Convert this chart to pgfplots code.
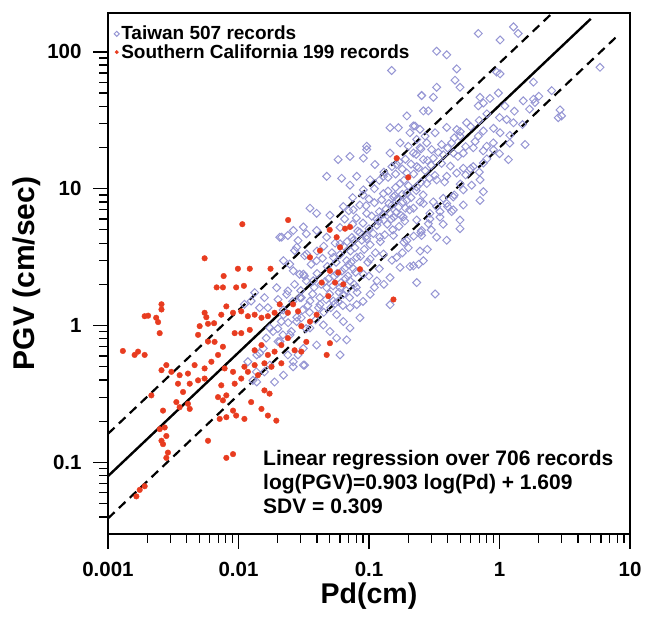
\documentclass[border=0pt]{standalone}
\usepackage{fontspec}
\setmainfont{Liberation Sans}
\usepackage{pgfplots}
\pgfplotsset{compat=1.18}
\definecolor{twblue}{RGB}{150,150,212}
\definecolor{scred}{RGB}{232,60,32}
\begin{document}
\begin{tikzpicture}
\useasboundingbox (-108pt,-82pt) rectangle (542pt,534pt);
\begin{loglogaxis}[
  at={(0,0)}, anchor=south west,
  scale only axis, width=522pt, height=521pt,
  xmin=0.001, xmax=10, ymin=0.03, ymax=192,
  xtick={0.001,0.01,0.1,1,10}, xticklabels={0.001,0.01,0.1,1,10},
  ytick={0.1,1,10,100}, yticklabels={0.1,1,10,100},
  minor xtick={0.002,0.003,0.004,0.005,0.006,0.007,0.008,0.009,
    0.02,0.03,0.04,0.05,0.06,0.07,0.08,0.09,
    0.2,0.3,0.4,0.5,0.6,0.7,0.8,0.9,2,3,4,5,6,7,8,9},
  minor ytick={0.04,0.05,0.06,0.07,0.08,0.09,
    0.2,0.3,0.4,0.5,0.6,0.7,0.8,0.9,2,3,4,5,6,7,8,9,
    20,30,40,50,60,70,80,90},
  tick pos=left, tick align=outside,
  major tick length=15pt, minor tick length=9pt,
  major tick style={line width=1.5pt, black},
  minor tick style={line width=1.2pt, black},
  axis line style={line width=1.8pt},
  ticklabel style={font=\fontsize{20.5}{24}\selectfont\bfseries},
  xticklabel style={yshift=-10pt},
  yticklabel style={xshift=-8pt},
  xlabel={Pd(cm)}, ylabel={PGV (cm/sec)},
  xlabel style={yshift=-1pt, inner sep=1pt, font=\fontsize{28.5}{32}\selectfont\bfseries},
  ylabel style={font=\fontsize{30}{34}\selectfont\bfseries},
  legend style={at={(rel axis cs:0,1)}, anchor=north west, xshift=4pt, yshift=-9pt,
    draw=none, fill=none,
    font=\fontsize{19}{21}\selectfont\bfseries, inner sep=2pt, row sep=-1pt},
  legend cell align=left,
  legend image code/.code={\draw[mark size=1.8pt, mark repeat=2,mark phase=2] plot coordinates {(0cm,0cm) (0.1cm,0cm) (0.2cm,0cm)};},
]
% Taiwan
\addplot[only marks, mark=square, mark size=2.8pt,
  mark options={rotate=45, draw=twblue, fill=none, line width=1pt}] coordinates {
(0.688,136) (1.28,152) (1.39,136) (1.01,122) (0.33,101) (0.394,95) (0.47,75) (0.951,71) (1.01,69) (0.456,62)
(0.498,55) (0.33,55) (0.253,48) (0.311,46.5) (0.709,46.5) (0.845,45.6) (0.98,50) (1.82,60) (2.51,52) (1.52,43.8)
(1.82,45) (1.87,42.6) (0.688,40.3) (0.752,42.2) (2.91,37.6) (2.99,34) (2.82,33) (0.285,37) (0.195,34) (1.135,32)
(1.28,30.3) (0.56,30.3) (0.47,27) (0.394,28) (0.321,25.6) (0.269,24.2) (0.225,28.7) (0.206,25.6) (1.01,25.6) (0.752,26.4)
(0.688,24.2) (0.498,24.2) (0.43,21.6) (0.36,21) (0.302,19.3) (0.246,19.9) (0.219,18.2) (1.57,21) (5.89,77) (1.17,16.3)
(0.897,21.6) (0.798,20.4) (0.63,19.9) (0.528,18.2) (0.443,18.2) (0.371,17.7) (0.311,16.7) (0.261,16.3) (0.232,14.5) (0.195,13)
(0.752,15.4) (0.63,14.5) (0.528,14.1) (0.47,13) (0.394,12.3) (0.33,11.6) (0.277,10.9) (0.232,10.3) (0.709,11.6) (0.612,10.6)
(0.528,9.8) (0.443,8.7) (0.371,8.5) (0.311,8.0) (0.261,7.8) (0.219,7.2) (0.709,8.2) (0.752,9.5) (0.443,7.0) (0.35,6.8)
(0.293,6.6) (0.528,7.6) (0.43,6.8)
(0.498,5.9) (0.498,5.1) (0.394,4.2) (0.246,3.5) (0.206,2.7) (0.24,2.8) (0.232,2.06) (0.321,1.7) (0.253,4.55) (0.253,4.95)
(0.285,5.55) (0.185,4.06)
(0.149,73) (0.253,47.8) (0.261,37) (0.145,27.9) (0.168,27.9) (0.219,28.7) (0.173,21.6) (0.232,22.9) (0.277,21.6) (0.246,27.1)
(0.096,20.4) (0.2,20.4)
(0.096,19.3) (0.145,18.2) (0.058,16.3) (0.0715,17.2) (0.0905,16.7) (0.111,15) (0.163,15) (0.0474,12.3) (0.0617,11.9) (0.0805,12.3)
(0.102,11.6) (0.129,12.3) (0.173,10.9) (0.0715,10.6) (0.0905,9.8) (0.129,9.2) (0.154,8.7) (0.0353,7.2) (0.0397,6.6) (0.0502,6.4)
(0.0636,7.4) (0.0759,7.0) (0.096,6.6) (0.115,6.0) (0.145,6.6) (0.0214,4.42) (0.0263,4.95) (0.0314,5.25) (0.0397,4.95) (0.0474,4.42)
(0.06,3.95) (0.0759,4.18) (0.096,4.3) (0.121,4.42) (0.154,4.55) (0.129,3.33) (0.163,3.15) (0.0279,3.73) (0.0333,3.33) (0.0397,2.98)
(0.0533,3.15) (0.0674,2.98) (0.0805,3.15) (0.102,3.06) (0.0221,2.98) (0.0263,2.51) (0.0314,2.37) (0.0374,2.12) (0.0474,1.89) (0.06,1.89)
(0.0715,2.12) (0.0905,2.37) (0.115,2.12) (0.145,2.24) (0.173,2.66) (0.0196,1.89) (0.0234,1.69) (0.0296,1.6) (0.0353,1.51) (0.0421,1.42)
(0.0533,1.51) (0.0636,1.69) (0.0805,1.42) (0.102,1.69) (0.145,1.42) (0.0221,1.2) (0.0279,1.07) (0.0353,0.96) (0.0447,1.01) (0.0565,1.2)
(0.0715,1.35) (0.0853,1.14) (0.0502,0.905) (0.0636,1.07) (0.0248,0.855) (0.0314,0.68) (0.0397,0.72) (0.0565,0.81) (0.0715,0.96) (0.0674,0.786)
(0.0208,0.764) (0.0263,0.544) (0.0314,0.514) (0.06,0.61) (0.0174,0.96) (0.0155,0.68) (0.0138,0.61) (0.0174,0.514) (0.0221,0.434) (0.0138,0.387)
(0.195,8.2) (0.246,8.0) (0.232,5.9) (0.293,6.0) (0.183,6.2) (0.195,4.18) (0.261,2.98) (0.219,2.73) (0.33,7.4) (0.394,7.8)
(0.37,5.5) (0.33,4.42)
(0.0207,4.42) (0.0239,4.55) (0.0286,4.18) (0.0331,4.68) (0.0269,3.53) (0.0321,3.24) (0.0247,2.81) (0.0294,2.37) (0.0269,2.0) (0.0331,2.12)
(0.0239,1.79) (0.0303,1.6) (0.0201,1.55) (0.0158,1.6) (0.0133,1.74) (0.0125,1.51) (0.0111,1.43) (0.0145,1.35) (0.0168,1.35) (0.0213,1.07)
(0.0184,0.905) (0.0219,0.855) (0.0254,0.905) (0.0303,1.14) (0.0201,0.764) (0.0163,0.81) (0.0145,0.627) (0.0129,0.398) (0.0158,0.459) (0.0189,0.387)
(0.0239,0.61) (0.0286,0.61) (0.0262,0.50) (0.0321,0.514) (0.0137,0.459) (0.0118,0.544)
(0.075,5.5) (0.08,6.1) (0.085,4.8) (0.09,5.6) (0.095,7.5) (0.1,5.1) (0.105,6.3) (0.11,7.9) (0.115,5.4) (0.12,6.8)
(0.125,8.3) (0.13,5.9) (0.135,7.1) (0.14,9.6) (0.15,7.6) (0.155,6.2) (0.16,10.2) (0.165,8.4) (0.17,5.3) (0.18,9.1)
(0.185,11.5) (0.19,7.2) (0.2,10.5) (0.21,8.6) (0.22,12.8) (0.23,9.7) (0.24,14.2) (0.25,11.1) (0.26,9.0) (0.27,13.5)
(0.28,16.1) (0.29,11.9) (0.3,14.8) (0.32,12.5) (0.34,18.4) (0.36,15.3) (0.38,11.2) (0.4,19.8) (0.42,14.6) (0.45,23.5)
(0.48,17.2) (0.5,26.1) (0.55,20.3) (0.6,28.4) (0.65,22.1) (0.7,31.5) (0.75,18.9) (0.8,35.2) (0.9,27.6) (1.0,33.1)
(1.1,40.2) (1.2,24.5) (1.3,36.8) (1.5,29.4) (1.7,38.1) (2.0,47.3)
(0.03,1.8) (0.032,2.3) (0.034,1.4) (0.036,2.8) (0.038,1.9) (0.04,2.4) (0.042,1.6) (0.044,3.1) (0.046,2.1) (0.048,2.7)
(0.05,1.7) (0.052,3.4) (0.054,2.3) (0.056,2.9) (0.058,1.5) (0.06,3.3) (0.062,2.5) (0.064,3.8) (0.066,2.2) (0.068,4.1)
(0.07,2.8) (0.072,3.5) (0.074,4.4) (0.076,2.6) (0.078,3.7) (0.082,4.9) (0.086,3.2) (0.088,4.2) (0.092,3.6) (0.096,4.5)
(0.098,2.9) (0.102,3.9) (0.108,4.7) (0.112,3.4) (0.118,5.8) (0.122,4.1) (0.128,6.5) (0.132,4.6) (0.138,5.5) (0.142,7.8)
(0.148,6.0) (0.152,5.0) (0.158,8.9) (0.162,6.7) (0.168,7.3) (0.175,6.4) (0.182,8.0) (0.188,5.8) (0.195,9.3) (0.205,7.0)
(0.02,0.95) (0.022,1.3) (0.024,1.05) (0.026,1.5) (0.028,1.15) (0.031,1.3) (0.033,0.95) (0.035,1.25) (0.037,1.7) (0.039,1.1)
(0.041,1.35) (0.043,2.0) (0.045,1.25) (0.047,1.55) (0.049,2.2) (0.051,1.35) (0.053,1.95) (0.055,1.45) (0.057,2.4) (0.059,1.75)
(0.061,2.05) (0.063,1.4) (0.065,2.6) (0.067,1.8) (0.069,2.3) (0.071,1.6) (0.073,2.9) (0.077,2.0) (0.079,2.45) (0.081,1.75)
(0.11,10) (0.12,11.5) (0.13,13.2) (0.14,12.1) (0.15,14.5) (0.16,12.8) (0.17,15.7) (0.18,13.9) (0.19,16.4) (0.21,15.1)
(0.23,17.8) (0.25,19.5) (0.09,9.0) (0.1,8.4) (0.085,7.6) (0.075,8.6) (0.07,6.9) (0.065,6.0) (0.06,5.2) (0.055,4.0)
(0.045,3.8) (0.04,3.5)
(0.3,5.0) (0.35,6.2) (0.4,7.4) (0.45,9.0) (0.5,10.8) (0.55,12.6) (0.6,14.0) (0.7,13.2) (0.8,16.5) (0.9,19.2)
(1.0,18.0) (1.2,21.5) (0.25,4.8) (0.22,4.5) (0.28,3.6) (0.15,3.0) (0.12,2.6) (0.1,2.3) (0.08,1.9) (0.09,1.5)
(0.11,1.9) (0.13,2.0) (0.18,3.4) (0.2,3.7)
};
\addlegendentry{Taiwan 507 records}
% Southern California
\addplot[only marks, mark=*, mark size=2.8pt, color=scred] coordinates {
(0.0107,5.5) (0.024,5.9) (0.0055,3.1) (0.0099,2.6) (0.0122,2.6) (0.0176,2.6) (0.0077,2.3) (0.0068,1.9) (0.0076,1.9) (0.0096,1.9)
(0.011,1.95) (0.00257,1.43) (0.00257,1.31) (0.00191,1.17) (0.00203,1.18) (0.00234,1.14) (0.00242,1.06) (0.00249,0.88) (0.0055,1.24) (0.00567,1.15)
(0.00504,0.99) (0.0049,0.855) (0.00584,1.03) (0.0065,1.04) (0.00738,1.2) (0.00807,1.38) (0.00908,1.24) (0.0105,1.27) (0.0118,1.17) (0.0133,1.2)
(0.015,1.14) (0.0168,1.17) (0.0189,1.24) (0.0207,1.43) (0.0239,1.24) (0.0262,1.43) (0.0286,1.27) (0.0303,0.99) (0.0013,0.652) (0.0016,0.61)
(0.0017,0.645) (0.00191,0.61) (0.00584,0.764) (0.00656,0.76) (0.0076,0.7) (0.00935,0.88) (0.0105,0.88) (0.0122,0.93) (0.0133,0.66) (0.015,0.72)
(0.0168,0.61) (0.0189,0.645) (0.0213,0.72) (0.0239,0.81) (0.0269,0.66) (0.0303,0.645) (0.0331,0.76) (0.0028,0.514) (0.00257,0.472) (0.00306,0.459)
(0.00354,0.434) (0.0041,0.446) (0.00461,0.514) (0.0055,0.486) (0.0062,0.544) (0.00697,0.61) (0.00783,0.486) (0.00908,0.459) (0.0111,0.5) (0.0133,0.514)
(0.0158,0.53) (0.0179,0.5) (0.0213,0.53) (0.00215,0.309) (0.00344,0.376) (0.00376,0.327) (0.00423,0.376) (0.0049,0.398) (0.0055,0.41) (0.00738,0.366)
(0.00807,0.309) (0.00935,0.376) (0.0105,0.41) (0.0118,0.459) (0.0141,0.434) (0.0158,0.336) (0.0173,0.318) (0.00334,0.276) (0.00354,0.253) (0.0041,0.268)
(0.00423,0.246) (0.00264,0.239) (0.00697,0.3) (0.0076,0.284) (0.00908,0.239) (0.0096,0.22) (0.0125,0.276) (0.015,0.246) (0.0168,0.22) (0.0195,0.202)
(0.00249,0.175) (0.00272,0.18) (0.0028,0.156) (0.00257,0.144) (0.00264,0.136) (0.00288,0.118) (0.0028,0.108) (0.00584,0.144) (0.00807,0.108) (0.00908,0.115)
(0.00718,0.208) (0.00807,0.214) (0.0111,0.208) (0.00175,0.063) (0.00191,0.067) (0.00165,0.0565)
(0.163,16.7) (0.2,12.1) (0.05,5.0) (0.0655,5.1) (0.0715,5.25) (0.0353,3.15) (0.0421,3.53) (0.0565,4.42) (0.06,3.73) (0.0502,2.51)
(0.0582,2.44) (0.0434,2.06) (0.0549,2.06) (0.0636,2.0) (0.0853,2.58) (0.0488,1.64) (0.0397,1.2) (0.0353,1.07) (0.0502,0.743) (0.0474,0.61)
(0.154,1.55)
};
\addlegendentry{Southern California 199 records}
% regression and +/- 1 SDV
\addplot[forget plot, black, line width=2.4pt] coordinates {(0.001,0.0794) (5.0,173.9)};
\addplot[forget plot, black, line width=2.2pt, dash pattern=on 9pt off 6pt] coordinates {(0.001,0.1618) (2.6,196)};
\addplot[forget plot, black, line width=2.2pt, dash pattern=on 9pt off 6pt] coordinates {(0.001,0.039) (8.0,130.5)};
\node[anchor=north west, align=left, inner sep=0pt, font=\fontsize{21}{24}\selectfont\bfseries]
  at (rel axis cs:0.297,0.162) {Linear regression over 706 records\\log(PGV)=0.903 log(Pd) + 1.609\\SDV = 0.309};
\end{loglogaxis}
\end{tikzpicture}
\end{document}
